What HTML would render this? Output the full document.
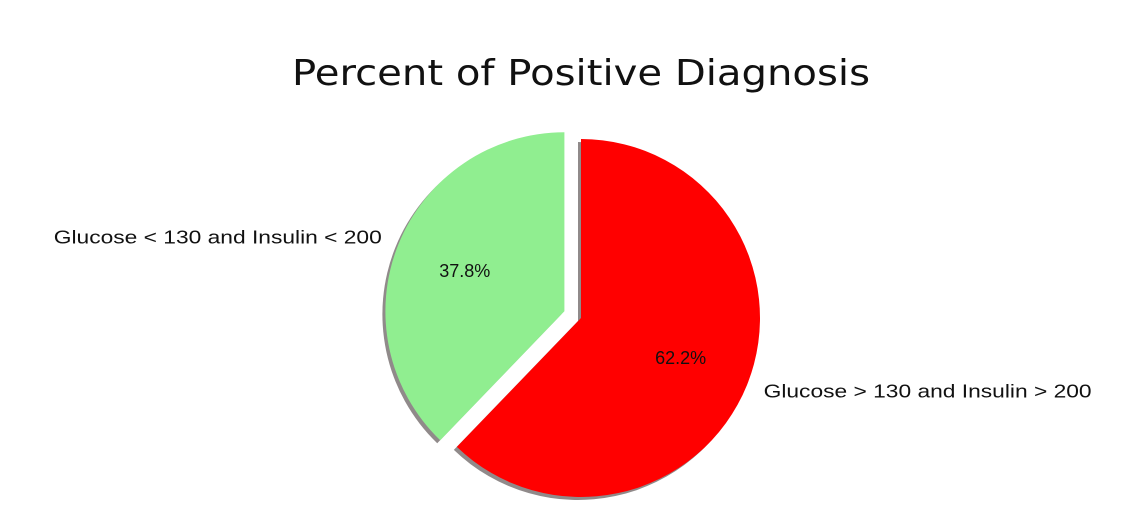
<!DOCTYPE html>
<html>
<head>
<meta charset="utf-8">
<style>
html,body{margin:0;padding:0;background:#fff;}
svg{display:block;font-family:"DejaVu Sans","Liberation Sans",sans-serif;}
</style>
</head>
<body>
<svg id="chart" width="1147" height="530" viewBox="0 0 1147 530" xmlns="http://www.w3.org/2000/svg">
  <rect width="1147" height="530" fill="#fff"/>
  <text x="581" y="85" text-anchor="middle" font-size="36" fill="#111" textLength="578" lengthAdjust="spacingAndGlyphs">Percent of Positive Diagnosis</text>
  <g id="shadows"></g>
  <g id="slices"></g>
  <g id="labels"></g>
</svg>
<script>
const categories = ["Glucose < 130 and Insulin < 200", "Glucose > 130 and Insulin > 200"];
const values = [37.8, 62.2];
const explodeAmounts = [0.1, 0];
const colors = ["#90ee90", "#ff0000"];

const NS = "http://www.w3.org/2000/svg";
const cx = 581, cy = 318, R = 179;
const startAngle = 90;
const total = values.reduce((a, b) => a + b, 0);
const shadowG = document.getElementById('shadows');
const sliceG = document.getElementById('slices');
const labelG = document.getElementById('labels');

function pt(x0, y0, r, deg) {
  const a = deg * Math.PI / 180;
  return [x0 + r * Math.cos(a), y0 - r * Math.sin(a)];
}
function arcPath(x0, y0, a0, a1) {
  const p0 = pt(x0, y0, R, a0), p1 = pt(x0, y0, R, a1);
  const large = (a1 - a0) > 180 ? 1 : 0;
  return `M${x0},${y0} L${p0[0]},${p0[1]} A${R},${R} 0 ${large} 0 ${p1[0]},${p1[1]} Z`;
}

let ang = startAngle;
values.forEach((v, i) => {
  const sweep = v / total * 360;
  const a0 = ang, a1 = ang + sweep, mid = (a0 + a1) / 2;
  ang = a1;
  const [ox, oy] = pt(cx, cy, explodeAmounts[i] * R, mid);

  const sh = document.createElementNS(NS, 'path');
  sh.setAttribute('d', arcPath(ox - 3, oy + 3, a0, a1));
  sh.setAttribute('fill', 'rgba(70,60,60,0.6)');
  
  
  shadowG.appendChild(sh);

  const p = document.createElementNS(NS, 'path');
  p.setAttribute('d', arcPath(ox, oy, a0, a1));
  p.setAttribute('fill', colors[i]);
  
  
  sliceG.appendChild(p);

  const [lx, ly] = pt(ox, oy, 1.1 * R, mid);
  const t = document.createElementNS(NS, 'text');
  t.setAttribute('x', lx);
  t.setAttribute('y', ly + 6);
  t.setAttribute('font-size', '18');
  t.setAttribute('font-family', '"Liberation Sans", sans-serif');
  t.setAttribute('fill', '#111');
  t.setAttribute('text-anchor', Math.cos(mid * Math.PI / 180) < 0 ? 'end' : 'start');
  t.setAttribute('textLength', '328');
  t.setAttribute('lengthAdjust', 'spacingAndGlyphs');
  t.textContent = categories[i];
  
  
  labelG.appendChild(t);

  const [px, py] = pt(ox, oy, 0.6 * R, mid);
  const pc = document.createElementNS(NS, 'text');
  pc.setAttribute('x', px);
  pc.setAttribute('y', py + 6);
  pc.setAttribute('font-size', '18');
  pc.setAttribute('font-family', '"Liberation Sans", sans-serif');
  pc.setAttribute('fill', '#111');
  pc.setAttribute('text-anchor', 'middle');
  pc.textContent = (v / total * 100).toFixed(1) + '%';
  
  
  labelG.appendChild(pc);
});
</script>
</body>
</html>
